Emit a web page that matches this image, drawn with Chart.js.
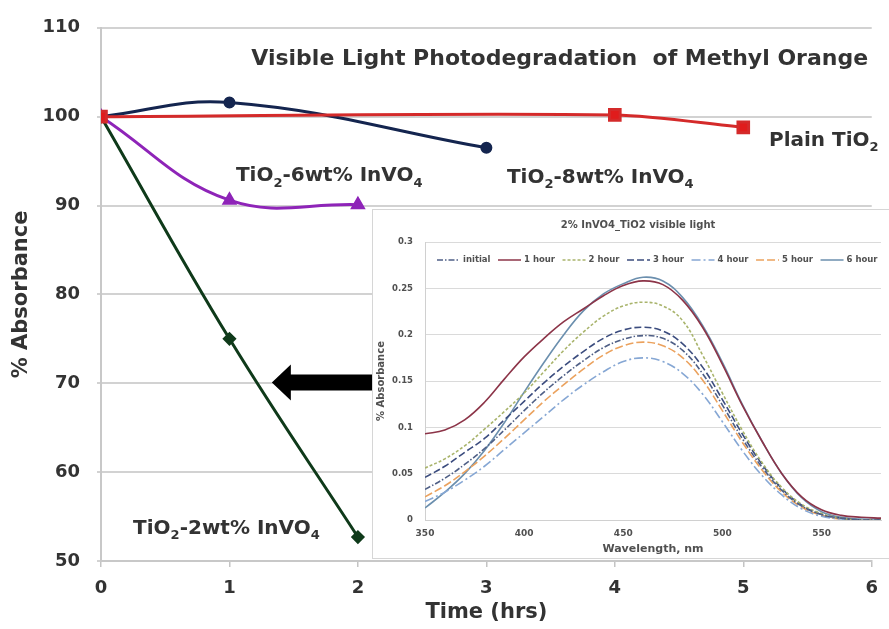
<!DOCTYPE html>
<html>
<head>
<meta charset="utf-8">
<script src="https://cdn.jsdelivr.net/npm/chart.js@4/dist/chart.umd.min.js"></script>
<style>
  html, body { margin: 0; padding: 0; background: #fff; }
  #wrap { position: relative; width: 889px; height: 629px; overflow: hidden; }
  #main { position: absolute; left: 0; top: 0; }
  #cajaInset { position: absolute; left: 372px; top: 209px; width: 517px; height: 348px;
               background: #fff; border: 1px solid #d6d6d6; border-right: none; }
  #inset { display: block; }
</style>
</head>
<body>
<div id="wrap">
  <canvas id="main" width="889" height="629"></canvas>
  <div id="cajaInset"><canvas id="inset" width="516" height="348"></canvas></div>
</div>
<script>
// ---- grafico principal: % absorbancia vs tiempo ----
const xPlain = [0, 4, 5];
const yPlain = [100, 100.2, 98.8];
const x8wt = [0, 1, 3];
const y8wt = [100, 101.6, 96.5];
const x6wt = [0, 1, 2];
const y6wt = [100, 90.6, 90.1];
const x2wt = [0, 1, 2];
const y2wt = [100, 75.0, 52.7];
const ticksTiempo = [0, 1, 2, 3, 4, 5, 6];
const ticksAbs = [50, 60, 70, 80, 90, 100, 110];

// ---- inset: espectros 2% InVO4_TiO2 ----
const longitudOnda = [350, 360, 370, 380, 390, 400, 410, 420, 430, 440, 450, 460,
                      470, 480, 490, 500, 510, 520, 530, 540, 550, 560, 570, 580];
const inicial = [0.033, 0.045, 0.060, 0.077, 0.097, 0.118, 0.138, 0.156, 0.172, 0.186, 0.195, 0.199,
                 0.196, 0.183, 0.158, 0.124, 0.088, 0.057, 0.032, 0.015, 0.006, 0.002, 0.000, 0.000];
const hora1 = [0.093, 0.097, 0.108, 0.127, 0.152, 0.176, 0.196, 0.214, 0.228, 0.242, 0.253, 0.258,
               0.254, 0.237, 0.208, 0.168, 0.124, 0.085, 0.050, 0.025, 0.011, 0.005, 0.003, 0.002];
const hora2 = [0.056, 0.066, 0.080, 0.098, 0.117, 0.137, 0.160, 0.183, 0.203, 0.220, 0.231, 0.235,
               0.231, 0.215, 0.178, 0.137, 0.097, 0.062, 0.035, 0.017, 0.007, 0.002, 0.000, 0.000];
const hora3 = [0.046, 0.058, 0.073, 0.088, 0.108, 0.128, 0.148, 0.166, 0.182, 0.196, 0.205, 0.208,
               0.204, 0.190, 0.165, 0.130, 0.093, 0.060, 0.034, 0.016, 0.006, 0.002, 0.000, 0.000];
const hora4 = [0.020, 0.030, 0.043, 0.058, 0.076, 0.094, 0.112, 0.130, 0.146, 0.160, 0.171, 0.175,
               0.171, 0.158, 0.136, 0.106, 0.075, 0.048, 0.027, 0.012, 0.004, 0.001, 0.000, 0.000];
const hora5 = [0.025, 0.037, 0.052, 0.069, 0.088, 0.108, 0.128, 0.146, 0.163, 0.178, 0.188, 0.192,
               0.188, 0.175, 0.151, 0.118, 0.084, 0.054, 0.030, 0.014, 0.005, 0.001, 0.000, 0.000];
const hora6 = [0.013, 0.030, 0.050, 0.075, 0.105, 0.138, 0.170, 0.200, 0.226, 0.244, 0.255, 0.262,
               0.258, 0.240, 0.210, 0.170, 0.125, 0.085, 0.050, 0.024, 0.009, 0.003, 0.001, 0.001];
const nombresSeries = ['initial', '1 hour', '2 hour', '3 hour', '4 hour', '5 hour', '6 hour'];

const fuente = 'DejaVu Sans';
const grisTexto = '#333333';

const toPts = (xs, ys) => xs.map((x, i) => ({ x: x, y: ys[i] }));

// texto con subindices: partes [texto, esSub]
function textoRico(ctx, partes, x, y, size) {
  const fNormal = `bold ${size}px "${fuente}"`;
  const fSub = `bold ${Math.round(size * 0.65)}px "${fuente}"`;
  let cx = x;
  ctx.textAlign = 'left';
  ctx.textBaseline = 'middle';
  partes.forEach(([t, sub]) => {
    ctx.font = sub ? fSub : fNormal;
    ctx.fillText(t, cx, sub ? y + size * 0.35 : y);
    cx += ctx.measureText(t).width;
  });
}

const notas = [
  { partes: [['Visible Light Photodegradation  of Methyl Orange', false]], x: 1.17, y: 106.5, size: 22 },
  { partes: [['Plain TiO', false], ['2', true]], x: 5.2, y: 97.3, size: 20 },
  { partes: [['TiO', false], ['2', true], ['-8wt% InVO', false], ['4', true]], x: 3.16, y: 93.1, size: 20 },
  { partes: [['TiO', false], ['2', true], ['-6wt% InVO', false], ['4', true]], x: 1.05, y: 93.3, size: 20 },
  { partes: [['TiO', false], ['2', true], ['-2wt% InVO', false], ['4', true]], x: 0.25, y: 53.6, size: 20 }
];

const pluginNotas = {
  id: 'notas',
  afterDatasetsDraw(chart) {
    const { ctx, scales: { x, y } } = chart;
    ctx.save();
    ctx.fillStyle = grisTexto;
    notas.forEach(n => textoRico(ctx, n.partes, x.getPixelForValue(n.x), y.getPixelForValue(n.y), n.size));

    // flecha negra hacia la curva de 2wt%
    const punta = x.getPixelForValue(1.33);
    const cola = x.getPixelForValue(2.3);
    const yc = y.getPixelForValue(70.1);
    const baseCabeza = punta + 19;
    ctx.fillStyle = '#000';
    ctx.beginPath();
    ctx.moveTo(punta, yc);
    ctx.lineTo(baseCabeza, yc - 18);
    ctx.lineTo(baseCabeza, yc - 8);
    ctx.lineTo(cola, yc - 8);
    ctx.lineTo(cola, yc + 8);
    ctx.lineTo(baseCabeza, yc + 8);
    ctx.lineTo(baseCabeza, yc + 18);
    ctx.closePath();
    ctx.fill();
    ctx.restore();
  }
};

new Chart(document.getElementById('main'), {
  type: 'line',
  data: {
    datasets: [
      { label: 'TiO2-2wt% InVO4', data: toPts(x2wt, y2wt), borderColor: '#0f3a1a', backgroundColor: '#0f3a1a',
        borderWidth: 3, pointStyle: 'rectRot', pointRadius: 5, tension: 0.4, order: 4 },
      { label: 'TiO2-6wt% InVO4', data: toPts(x6wt, y6wt), borderColor: '#8e24b8', backgroundColor: '#8e24b8',
        borderWidth: 3, pointStyle: 'triangle', pointRadius: 6, tension: 0.4, order: 3 },
      { label: 'TiO2-8wt% InVO4', data: toPts(x8wt, y8wt), borderColor: '#14254f', backgroundColor: '#14254f',
        borderWidth: 3, pointStyle: 'circle', pointRadius: 4.5, tension: 0.4, order: 2 },
      { label: 'Plain TiO2', data: toPts(xPlain, yPlain), borderColor: '#d42a2a', backgroundColor: '#e01c1c',
        borderWidth: 3, pointStyle: 'rect', pointRadius: 7.5, tension: 0.3, order: 1 }
    ]
  },
  options: {
    responsive: false,
    animation: false,
    layout: { padding: { top: 26, right: 11, left: 0, bottom: 0 } },
    plugins: { legend: { display: false }, tooltip: { enabled: false } },
    scales: {
      x: {
        type: 'linear', min: ticksTiempo[0], max: ticksTiempo[ticksTiempo.length - 1],
        afterFit: s => { s.height = 68; },
        afterBuildTicks: s => { s.ticks = ticksTiempo.map(v => ({ value: v })); },
        ticks: { padding: 11, color: grisTexto, font: { family: fuente, weight: 'bold', size: 18 } },
        grid: { drawOnChartArea: false, tickLength: 6, color: '#c4c4c4', lineWidth: 1.5 },
        border: { color: '#c8c8c8', width: 2 },
        title: { display: true, text: 'Time (hrs)', color: grisTexto,
                 font: { family: fuente, weight: 'bold', size: 21 }, padding: { top: 0, bottom: 4 } }
      },
      y: {
        min: ticksAbs[0], max: ticksAbs[ticksAbs.length - 1],
        afterFit: s => { s.width = 101; },
        afterBuildTicks: s => { s.ticks = ticksAbs.map(v => ({ value: v })); },
        ticks: { padding: 17, color: grisTexto, font: { family: fuente, weight: 'bold', size: 18 } },
        grid: { color: '#d2d2d2', lineWidth: 2, tickLength: 4 },
        border: { color: '#c8c8c8', width: 2 },
        title: { display: true, text: '% Absorbance', color: grisTexto,
                 font: { family: fuente, weight: 'bold', size: 21 }, padding: { top: 9, bottom: 0 } }
      }
    }
  },
  plugins: [pluginNotas]
});

// ---- inset ----
const estilos = [
  { color: '#4f5f86', dash: [6, 2, 1.5, 2] },
  { color: '#8c3448', dash: [] },
  { color: '#a9b46c', dash: [3, 2] },
  { color: '#3b4c7e', dash: [7, 3] },
  { color: '#86a7d4', dash: [9, 3, 2, 3] },
  { color: '#eba25e', dash: [8, 3] },
  { color: '#6b8fae', dash: [] }
];
const seriesInset = [inicial, hora1, hora2, hora3, hora4, hora5, hora6];

const pluginInset = {
  id: 'textosInset',
  afterDraw(chart) {
    const { ctx } = chart;
    ctx.save();
    ctx.fillStyle = '#505050';
    ctx.font = `bold 10px "${fuente}"`;
    ctx.textAlign = 'center';
    ctx.textBaseline = 'middle';
    ctx.fillText('2% InVO4_TiO2 visible light', 265, 15);

    // leyenda horizontal
    let lx = 64;
    const ly = 50;
    ctx.font = `bold 8.5px "${fuente}"`;
    ctx.textAlign = 'left';
    chart.data.datasets.forEach(ds => {
      ctx.strokeStyle = ds.borderColor;
      ctx.lineWidth = 1.5;
      ctx.setLineDash(ds.borderDash);
      ctx.beginPath();
      ctx.moveTo(lx, ly);
      ctx.lineTo(lx + 23, ly);
      ctx.stroke();
      ctx.setLineDash([]);
      lx += 26;
      ctx.fillText(ds.label, lx, ly);
      lx += ctx.measureText(ds.label).width + 7.5;
    });
    ctx.restore();
  }
};

new Chart(document.getElementById('inset'), {
  type: 'line',
  data: {
    datasets: seriesInset.map((serie, i) => ({
      label: nombresSeries[i],
      data: toPts(longitudOnda, serie),
      borderColor: estilos[i].color,
      borderDash: estilos[i].dash,
      borderWidth: 1.6,
      pointRadius: 0,
      tension: 0.4
    }))
  },
  options: {
    responsive: false,
    animation: false,
    layout: { padding: { top: 32, right: 6, left: 0, bottom: 0 } },
    plugins: { legend: { display: false }, tooltip: { enabled: false } },
    scales: {
      x: {
        type: 'linear', min: 350, max: 580,
        afterFit: s => { s.height = 38; },
        ticks: { stepSize: 50, padding: 8, color: '#505050', font: { family: fuente, weight: 'bold', size: 9 },
                 callback: v => (v <= 550 ? v : '') },
        grid: { display: false, drawTicks: false },
        border: { color: '#d0d0d0' },
        title: { display: true, text: 'Wavelength, nm', color: '#505050',
                 font: { family: fuente, weight: 'bold', size: 11 }, padding: { top: 0, bottom: 2 } }
      },
      y: {
        min: 0, max: 0.3,
        afterFit: s => { s.width = 52; },
        ticks: { stepSize: 0.05, padding: 12, color: '#505050', font: { family: fuente, weight: 'bold', size: 8.5 },
                 callback: v => String(Number(v.toFixed(2))) },
        grid: { color: '#dadada', drawTicks: false },
        border: { color: '#d0d0d0' },
        title: { display: true, text: '% Absorbance', color: '#505050',
                 font: { family: fuente, weight: 'bold', size: 10 }, padding: { top: 2, bottom: 0 } }
      }
    }
  },
  plugins: [pluginInset]
});
</script>
</body>
</html>
